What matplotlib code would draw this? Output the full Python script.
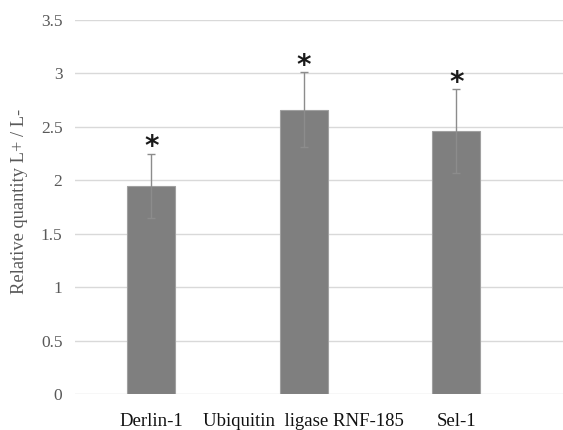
import numpy as np
import matplotlib
matplotlib.use("Agg")
import matplotlib.pyplot as plt

# values
genes = ['Derlin-1', 'Ubiquitin  ligase RNF-185', 'Sel-1']
rel_qty = [1.95, 2.66, 2.46]
err = [0.30, 0.35, 0.39]
y_ticks = [0, 0.5, 1, 1.5, 2, 2.5, 3, 3.5]
y_tick_labels = ['0', '0.5', '1', '1.5', '2', '2.5', '3', '3.5']

plt.rcParams['font.family'] = ['Liberation Serif', 'DejaVu Serif']

fig = plt.figure(figsize=(5.63, 4.30), dpi=100)
ax = fig.add_axes([75 / 563, 1 - 394 / 430, 1 - 75 / 563, (394 - 20) / 430])

x = np.arange(len(genes))
ax.bar(x, rel_qty, width=0.315, color='#7f7f7f', edgecolor='#a0a0a0',
       linewidth=0.8, zorder=2)
ax.errorbar(x, rel_qty, yerr=err, fmt='none', ecolor='#8c8c8c',
            elinewidth=1.0, capsize=3, capthick=1.0, zorder=3)

# significance stars, just above the error caps
for xi, v, e in zip(x, rel_qty, err):
    ax.annotate('*', xy=(xi, v + e), xytext=(0, -1), textcoords='offset points',
                ha='center', va='baseline', fontsize=20, fontweight='bold',
                family='DejaVu Sans', color='#1a1a1a', zorder=4)

ax.set_xlim(-0.5, 2.7)
ax.set_ylim(0, 3.5)
ax.set_yticks(y_ticks)
ax.set_yticklabels(y_tick_labels, fontsize=12.5, color='#595959')
ax.set_xticks(x)
ax.set_xticklabels(genes, fontsize=13.5, color='#111111')
ax.tick_params(axis='both', length=0)
ax.tick_params(axis='y', pad=9)
ax.tick_params(axis='x', pad=14)

ax.grid(axis='y', color='#d9d9d9', linewidth=1.0, zorder=0)
for s in ax.spines.values():
    s.set_visible(False)

ax.set_ylabel('Relative quantity L+ / L-', fontsize=13.3, color='#595959')
ax.yaxis.set_label_coords(-0.097, 0.515)

fig.savefig('out.png', dpi=100)
